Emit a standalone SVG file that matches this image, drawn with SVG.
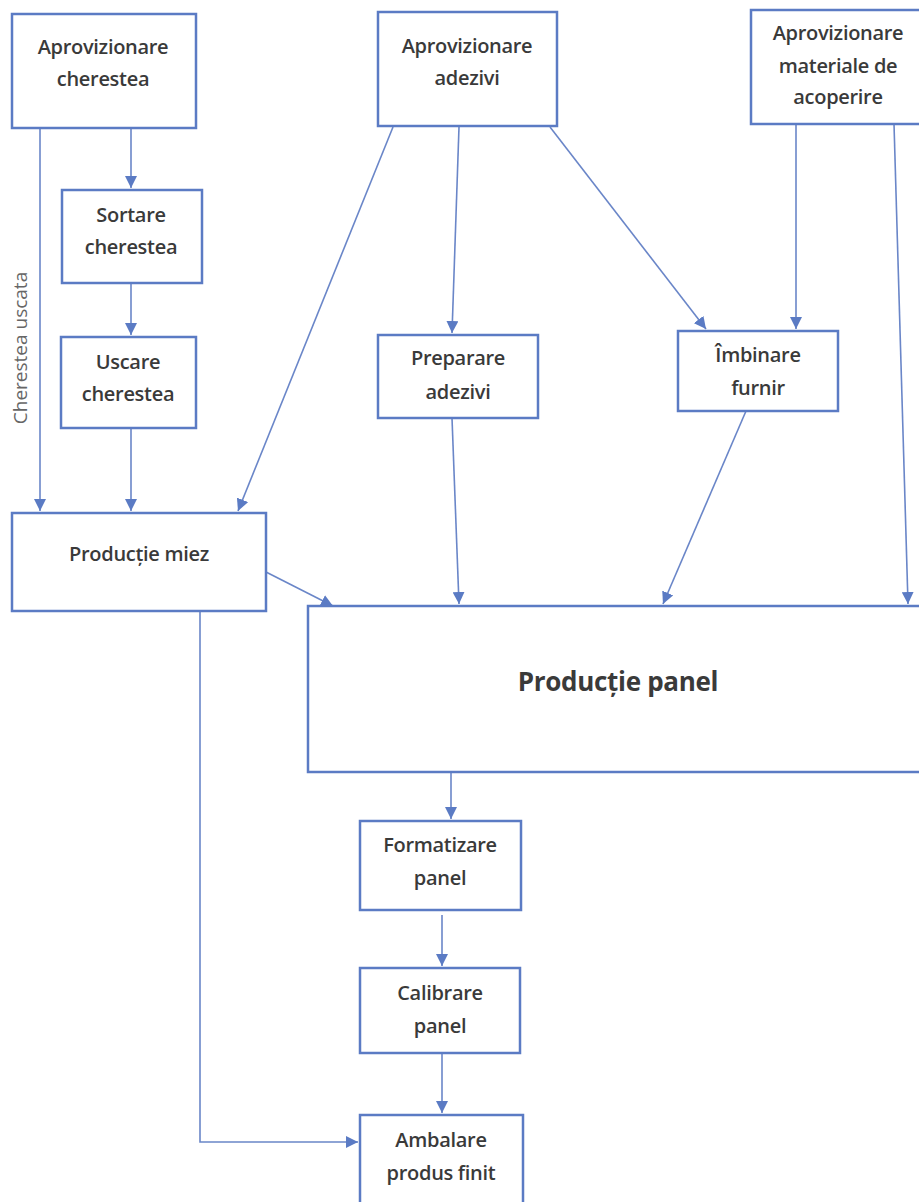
<svg xmlns="http://www.w3.org/2000/svg" width="919" height="1202" viewBox="0 0 919 1202">
<style>
.box{fill:#fff;stroke:#5b7bc4;stroke-width:2.5}
.t{font-family:"Open Sans","Liberation Sans",sans-serif;font-weight:600;font-size:20px;fill:#3a3a3a;text-anchor:middle;letter-spacing:-0.3px}
.c{fill:none;stroke:#6a86c8;stroke-width:1.6}
</style>
<defs>
<marker id="ah" markerWidth="12" markerHeight="12" refX="10" refY="5" orient="auto" markerUnits="userSpaceOnUse" viewBox="0 0 10 10">
<path d="M0,0 L10,5 L0,10 z" fill="#5b7bc4"/>
</marker>
</defs>
<rect width="919" height="1202" fill="#fff"/>
<g id="connectors">
<path class="c" d="M40,128 L40,511" marker-end="url(#ah)"/>
<path class="c" d="M131,128 L131,188" marker-end="url(#ah)"/>
<path class="c" d="M131,283 L131,335" marker-end="url(#ah)"/>
<path class="c" d="M131,428 L131,511" marker-end="url(#ah)"/>
<path class="c" d="M393,127 L238,511" marker-end="url(#ah)"/>
<path class="c" d="M459,127 L452,333" marker-end="url(#ah)"/>
<path class="c" d="M550,127 L706,329" marker-end="url(#ah)"/>
<path class="c" d="M796,124 L796,329" marker-end="url(#ah)"/>
<path class="c" d="M894,124 L908,604" marker-end="url(#ah)"/>
<path class="c" d="M452,418 L459,604" marker-end="url(#ah)"/>
<path class="c" d="M746,411 L663,604" marker-end="url(#ah)"/>
<path class="c" d="M266,572 L333,606" marker-end="url(#ah)"/>
<path class="c" d="M451,772 L451,819" marker-end="url(#ah)"/>
<path class="c" d="M442,915 L442,966" marker-end="url(#ah)"/>
<path class="c" d="M442,1053 L442,1113" marker-end="url(#ah)"/>
<path class="c" d="M200,611 L200,1142 L358,1142" marker-end="url(#ah)"/>
<text x="22" y="348" transform="rotate(-90 22 348)" font-family="Open Sans,Liberation Sans,sans-serif" font-size="19" fill="#666" text-anchor="middle" dominant-baseline="middle">Cherestea uscata</text>
</g>
<g id="aprov-cherestea">
<rect class="box" x="12" y="14" width="184" height="114"/>
<text class="t" x="103" y="54">Aprovizionare</text>
<text class="t" x="103" y="86">cherestea</text>
</g>
<g id="sortare">
<rect class="box" x="62" y="190" width="140" height="93"/>
<text class="t" x="131" y="222">Sortare</text>
<text class="t" x="131" y="254">cherestea</text>
</g>
<g id="uscare">
<rect class="box" x="61" y="337" width="135" height="91"/>
<text class="t" x="128" y="369">Uscare</text>
<text class="t" x="128" y="401">cherestea</text>
</g>
<g id="productie-miez">
<rect class="box" x="12" y="513" width="254" height="98"/>
<text class="t" x="139" y="561">Producție miez</text>
</g>
<g id="aprov-adezivi">
<rect class="box" x="378" y="12" width="179" height="114"/>
<text class="t" x="467" y="53">Aprovizionare</text>
<text class="t" x="467" y="85">adezivi</text>
</g>
<g id="aprov-materiale">
<rect class="box" x="751" y="10" width="180" height="114"/>
<text class="t" x="838" y="40">Aprovizionare</text>
<text class="t" x="838" y="73">materiale de</text>
<text class="t" x="838" y="104">acoperire</text>
</g>
<g id="preparare">
<rect class="box" x="378" y="335" width="160" height="83"/>
<text class="t" x="458" y="365">Preparare</text>
<text class="t" x="458" y="399">adezivi</text>
</g>
<g id="imbinare">
<rect class="box" x="678" y="331" width="160" height="80"/>
<text class="t" x="758" y="362">Îmbinare</text>
<text class="t" x="758" y="395">furnir</text>
</g>
<g id="productie-panel">
<rect class="box" x="308" y="606" width="625" height="166"/>
<text class="t" x="618" y="691" style="font-size:26px;font-weight:700">Producție panel</text>
</g>
<g id="formatizare">
<rect class="box" x="360" y="821" width="161" height="89"/>
<text class="t" x="440" y="852">Formatizare</text>
<text class="t" x="440" y="885">panel</text>
</g>
<g id="calibrare">
<rect class="box" x="360" y="968" width="160" height="85"/>
<text class="t" x="440" y="1000">Calibrare</text>
<text class="t" x="440" y="1033">panel</text>
</g>
<g id="ambalare">
<rect class="box" x="360" y="1115" width="163" height="100"/>
<text class="t" x="441" y="1147">Ambalare</text>
<text class="t" x="441" y="1180">produs finit</text>
</g>
</svg>
